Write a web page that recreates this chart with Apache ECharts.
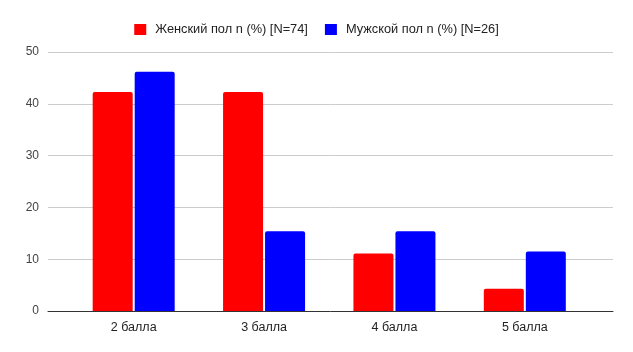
<!DOCTYPE html>
<html>
<head>
<meta charset="utf-8">
<script src="https://cdn.jsdelivr.net/npm/echarts@6/dist/echarts.min.js"></script>
<style>
  html, body { margin: 0; padding: 0; background: #fff; }
  #main { width: 633px; height: 352px; }
</style>
</head>
<body>
<div id="main"></div>
<script>
// данные диаграммы
const categories = ['2 балла', '3 балла', '4 балла', '5 балла'];
const femaleValues = [42.3, 42.3, 11.1, 4.3];
const maleValues = [46.2, 15.4, 15.4, 11.5];
const seriesNames = ['Женский пол n (%) [N=74]', 'Мужской пол n (%) [N=26]'];
const yMin = 0;
const yMax = 50;
const yStep = 10;

const font = '"Liberation Sans", Arial, sans-serif';
const chart = echarts.init(document.getElementById('main'));

const options = {
  animation: false,
  textStyle: { fontFamily: font },
  legend: {
    top: 18,
    left: 'center',
    itemWidth: 12,
    itemHeight: 11,
    itemGap: 17,
    icon: 'rect',
    textStyle: { fontSize: 12.8, color: '#222', fontFamily: font, padding: [0, 0, 0, 4] },
    data: seriesNames,
  },
  grid: [
    // сетка с осью Y и линиями
    { left: 48, right: 20, top: 52, bottom: 41 },
    // сетка для столбцов (ось X с отступами)
    { left: 68.5, right: 43, top: 52, bottom: 41 },
  ],
  xAxis: [
    {
      gridIndex: 0,
      type: 'category',
      data: [''],
      axisTick: { show: false },
      axisLabel: { show: false },
      axisLine: { show: true, lineStyle: { color: '#333', width: 1 } },
    },
    {
      gridIndex: 1,
      type: 'category',
      data: categories,
      axisTick: { show: false },
      axisLine: { show: false },
      axisLabel: { color: '#222', fontSize: 12.5, margin: 10, fontFamily: font },
    },
  ],
  yAxis: [
    {
      gridIndex: 0,
      type: 'value',
      min: yMin,
      max: yMax,
      interval: yStep,
      axisLine: { show: false },
      axisTick: { show: false },
      splitLine: { lineStyle: { color: '#ccc', width: 1 } },
      axisLabel: { color: '#444', fontSize: 12, margin: 9, fontFamily: font },
    },
    {
      gridIndex: 1,
      type: 'value',
      min: yMin,
      max: yMax,
      show: false,
    },
  ],
  series: [
    {
      name: seriesNames[0],
      type: 'bar',
      xAxisIndex: 1,
      yAxisIndex: 1,
      data: femaleValues,
      barWidth: 40,
      barGap: '5%',
      itemStyle: { color: '#ff0000', borderRadius: [2, 2, 0, 0] },
    },
    {
      name: seriesNames[1],
      type: 'bar',
      xAxisIndex: 1,
      yAxisIndex: 1,
      data: maleValues,
      barWidth: 40,
      barGap: '5%',
      itemStyle: { color: '#0000ff', borderRadius: [2, 2, 0, 0] },
    },
  ],
};
chart.setOption(options);
window.onresize = function () {
  chart.resize();
};
</script>
</body>
</html>
